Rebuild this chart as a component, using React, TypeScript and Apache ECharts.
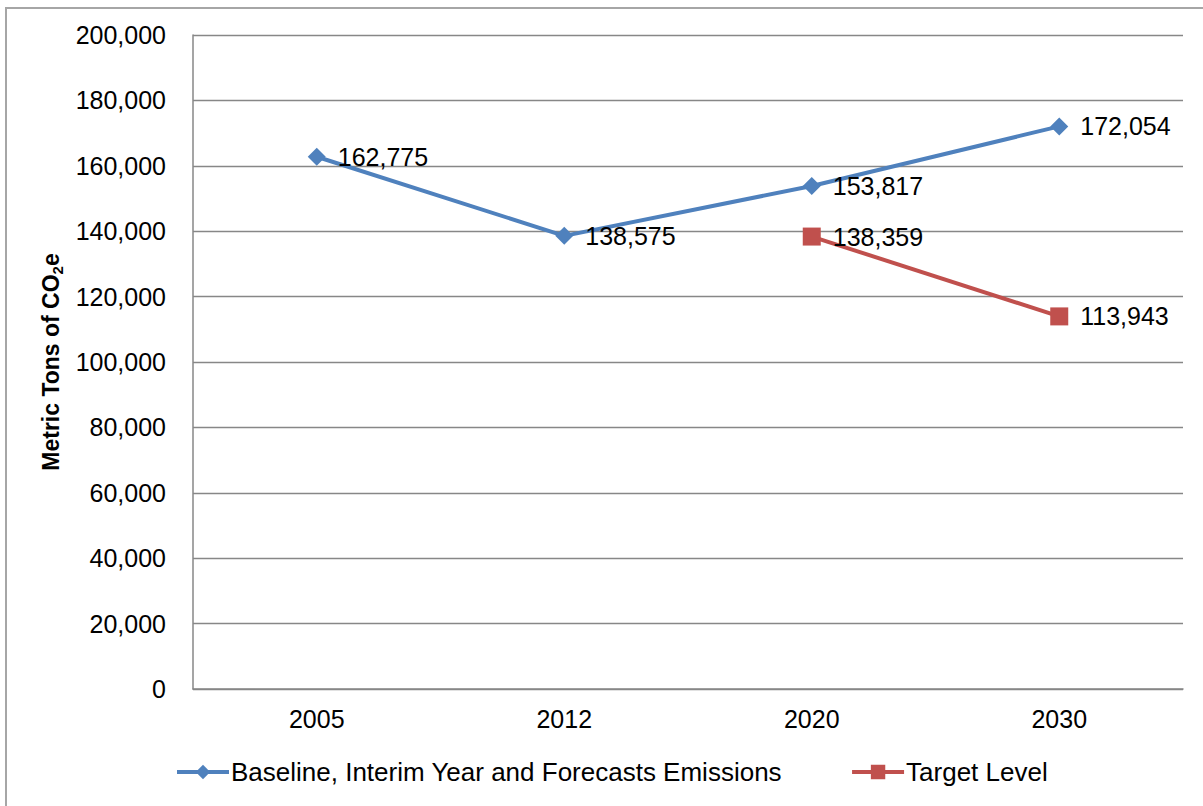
import React, { useEffect, useRef } from "react";
import * as echarts from "echarts";

const categories = ["2005", "2012", "2020", "2030"];
const baselineValues: (number | string)[] = [162775, 138575, 153817, 172054];
const targetValues: (number | string)[] = ["-", "-", 138359, 113943];
const baselineName = "Baseline, Interim Year and Forecasts Emissions";
const targetName = "Target Level";

const FONT = "'Liberation Sans', Arial, sans-serif";
const fmt = (v: number) => v.toLocaleString("en-US");

export default function App() {
  const ref = useRef<HTMLDivElement>(null);
  useEffect(() => {
    if (!ref.current) return;
    const chart = echarts.init(ref.current, undefined, { renderer: "svg" });
    const labelStyle = {
      show: true,
      position: "right" as const,
      distance: 12,
      color: "#000",
      fontFamily: FONT,
      fontSize: 25,
      formatter: (p: any) => fmt(p.value),
    };
    chart.setOption({
      animation: false,
      backgroundColor: "#fff",
      textStyle: { fontFamily: FONT },
      graphic: [
        {
          type: "rect",
          shape: { x: 6, y: 8, width: 1240, height: 840 },
          style: { fill: "none", stroke: "#a6a6a6", lineWidth: 2 },
          silent: true,
        },
      ],
      grid: { left: 193, right: 20, top: 35, bottom: 117, containLabel: false },
      legend: {
        bottom: 16,
        left: 170,
        itemWidth: 52,
        itemHeight: 18,
        itemGap: 68,
        lineStyle: { width: 4 },
        textStyle: { fontFamily: FONT, fontSize: 26, color: "#000", padding: [0, 0, 0, -3] },
        data: [baselineName, targetName],
      },
      xAxis: {
        type: "category",
        data: categories,
        boundaryGap: true,
        axisLine: { lineStyle: { color: "#878787", width: 1.5 } },
        axisTick: { show: false },
        axisLabel: { color: "#000", fontSize: 25, fontFamily: FONT, margin: 17 },
      },
      yAxis: {
        type: "value",
        min: 0,
        max: 200000,
        interval: 20000,
        name: "{a|Metric Tons of CO}{b|2}{a|e}",
        nameLocation: "middle",
        nameGap: 128,
        nameTextStyle: {
          rich: {
            a: { fontFamily: FONT, fontSize: 23, fontWeight: "bold", color: "#000", lineHeight: 28 },
            b: { fontFamily: FONT, fontSize: 15, fontWeight: "bold", color: "#000", verticalAlign: "bottom", lineHeight: 16, padding: [9, 0, 0, 0] },
          },
        },
        axisLine: { show: true, lineStyle: { color: "#878787", width: 1.5 } },
        axisTick: { show: false },
        splitLine: { lineStyle: { color: "#878787", width: 1.3 } },
        axisLabel: {
          color: "#000",
          fontSize: 25,
          fontFamily: FONT,
          margin: 27,
          formatter: (v: number) => fmt(v),
        },
      },
      series: [
        {
          name: baselineName,
          type: "line",
          data: baselineValues,
          symbol: "diamond",
          symbolSize: 18,
          itemStyle: { color: "#4F81BD" },
          lineStyle: { color: "#4F81BD", width: 4 },
          label: labelStyle,
        },
        {
          name: targetName,
          type: "line",
          data: targetValues,
          symbol: "rect",
          symbolSize: 18,
          itemStyle: { color: "#C0504D" },
          lineStyle: { color: "#C0504D", width: 4 },
          label: labelStyle,
        },
      ],
    });
    return () => chart.dispose();
  }, []);
  return (
    <div
      ref={ref}
      style={{ position: "fixed", left: 0, top: 0, width: 1203, height: 806, background: "#fff" }}
    />
  );
}
